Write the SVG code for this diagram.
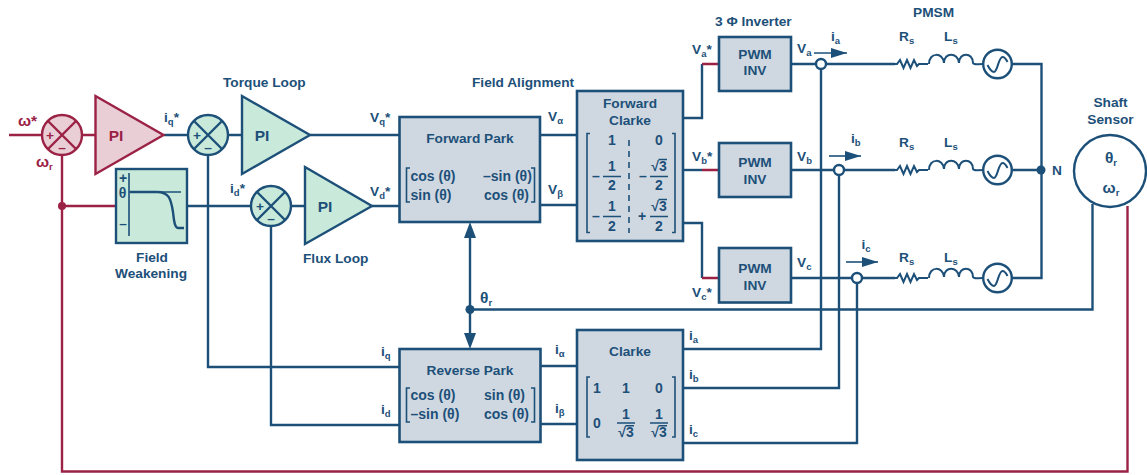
<svg xmlns="http://www.w3.org/2000/svg" width="1147" height="475" viewBox="0 0 1147 475">
<style>
text{font-family:"Liberation Sans",Arial,sans-serif;font-weight:bold;font-size:13.7px;fill:#1d5079}
.m{text-anchor:middle}
.r{fill:#9b2145}
.mx{font-size:14px}
.pi{font-size:15.5px}
.big{font-size:15.5px}
.s{font-size:9.5px}
.w{fill:none;stroke:#1d5079;stroke-width:2.4}
.wr{fill:none;stroke:#9b2145;stroke-width:2.4}
.t{fill:none;stroke:#1d5079;stroke-width:1.6}
.u{fill:none;stroke:#1d5079;stroke-width:2}
.b{fill:#cfd8e1;stroke:#1d5079;stroke-width:2.6}
.g{fill:#c9e9da;stroke:#1d5079;stroke-width:2.4}
.p{fill:#e9ced6;stroke:#9b2145;stroke-width:2.4}
.d{fill:#1d5079}
.o{fill:#fff;stroke:#1d5079;stroke-width:2.4}
</style>
<defs>
<marker id="ah" viewBox="0 0 16 10" refX="16" refY="5" markerWidth="16" markerHeight="10" markerUnits="userSpaceOnUse" orient="auto"><path d="M0 0L16 5L0 10Z" fill="#1d5079"/></marker>
<g id="rl"><path class="u" d="M0 0H2L5 -4L8.500 4L12 -4L15.500 4L19 -4L22 2L24 0H33"/></g>
<g id="ind"><path class="u" d="M0 0C0 -12 14 -12 15 -1C15 -12 29 -12 30 -1C30 -12 44 -12 44 -1C45 1 47 0 54 0"/></g>
<g id="src"><circle r="14.300" fill="#fff" stroke="#1d5079" stroke-width="2.400"/><path class="u" d="M-10 1C-8 5 -6 8 -3.500 8C0 8 1 -7 5 -7C7 -7 9 -4 10 -2"/></g>
</defs>

<g id="connectors">
<path class="wr" d="M9 135H42M82 135H95M62 155V471.500H1127.500V206M62 206H116"/>
<path class="w" d="M164 135H188M228 135H242M310 135H399M187 206H251M291 206H305M372 206H399"/>
<path class="w" d="M208 155V367H399M271 226V425H399"/>
<path class="w" d="M540 135H577M540 205H577M540 366H577M540 424H577"/>
<path class="w" d="M683 118H702V64"/>
<path class="w" d="M683 170H702"/>
<path class="w" d="M683 223H702V278"/>
<path class="wr" d="M702 64H719M702 170H719M702 278H719"/>
<path class="w" d="M791 64H895M791 170H895M791 278H895"/>
<path class="w" d="M821 64V349H683M839 170V388H683M857 278V443H683"/>
<path class="w" d="M1012 64H1041.500V278H1012M1012 170H1041"/>
<path class="w" d="M1092.500 204V309.500H470"/>
<path class="w" d="M470 234V337" stroke-width="2"/>
<path d="M470 222L476 238H464Z M470 349L476 333H464Z" class="d"/>
<path class="t" d="M814 53H847" marker-end="url(#ah)"/>
<path class="t" d="M829 156H861" marker-end="url(#ah)"/>
<path class="t" d="M846 262H878" marker-end="url(#ah)"/>
<circle cx="62" cy="206" r="4" fill="#9b2145"/>
<circle cx="470" cy="309.500" r="4.500" class="d"/>
<circle cx="1041" cy="170" r="4.500" class="d"/>
<circle cx="821" cy="64" r="5" class="o"/>
<circle cx="839" cy="170" r="5" class="o"/>
<circle cx="857" cy="278" r="5" class="o"/>
</g>

<g id="sum-speed">
<circle cx="62" cy="135" r="20" class="p"/>
<path class="wr" d="M48 121L76 149M76 121L48 149"/>
<text x="50" y="140" class="m r">+</text><text x="62" y="152" class="m r">–</text>
</g>
<g id="pi-speed">
<path class="p" d="M95.500 96L163.500 135L95.500 174Z"/>
<text x="116" y="141" class="m r pi">PI</text>
</g>
<g id="sum-q">
<circle cx="208" cy="135" r="20" class="g"/>
<path class="w" d="M194 121L222 149M222 121L194 149"/>
<text x="197" y="140" class="m">+</text><text x="208" y="152" class="m">–</text>
</g>
<g id="pi-q">
<path class="g" d="M242 96L310 135L242 174Z"/>
<text x="262" y="141" class="m pi">PI</text>
</g>
<g id="field-weakening">
<rect x="116" y="169" width="71" height="74" class="g"/>
<path class="t" d="M129 173V236M129 192H181"/>
<path class="w" d="M130 192H157C169 192 171 199 173 212C174 222 175 228 178 228H184"/>
<text x="123" y="183" class="m" style="font-size:14px">+</text>
<text x="122.500" y="198" class="m" style="font-size:14px">θ</text>
<text x="123" y="228" class="m">–</text>
</g>
<g id="sum-d">
<circle cx="271" cy="206" r="20" class="g"/>
<path class="w" d="M257 192L285 220M285 192L257 220"/>
<text x="260" y="211" class="m">+</text><text x="271" y="223" class="m">–</text>
</g>
<g id="pi-d">
<path class="g" d="M305 167L372 206L305 244Z"/>
<text x="325" y="212" class="m pi">PI</text>
</g>

<g id="forward-park">
<rect x="399.500" y="117" width="140.500" height="105" class="b"/>
<text x="470" y="143" class="m">Forward Park</text>
<path class="t" d="M410 168H406.500V202H410M531 168H534.500V202H531"/>
<text x="410.500" y="181" class="mx">cos (θ)</text><text x="483" y="181" class="mx">–sin (θ)</text>
<text x="410.500" y="200" class="mx">sin (θ)</text><text x="484" y="200" class="mx">cos (θ)</text>
</g>
<g id="forward-clarke">
<rect x="577" y="91" width="106" height="150" class="b"/>
<text x="630" y="108" class="m">Forward</text><text x="630" y="125" class="m">Clarke</text>
<path class="t" d="M590 133.500H587V232.500H590M672 133.500H675V232.500H672"/>
<path class="t" stroke-dasharray="6 5" d="M629 140V233"/>
<path class="t" d="M603 176.500H621M650 176.500H668M603 216.500H621M650 216.500H668"/>
<path class="t" stroke-width="1.200" d="M658.500 159.500H667M658.500 199.500H667"/>
<text x="612" y="145" class="m mx">1</text><text x="659" y="145" class="m mx">0</text>
<text x="596" y="181" class="m mx">–</text><text x="612" y="171" class="m mx">1</text><text x="612" y="190" class="m mx">2</text>
<text x="643" y="181" class="m mx">–</text><text x="659" y="171" class="m mx">√3</text><text x="659" y="190" class="m mx">2</text>
<text x="596" y="221" class="m mx">–</text><text x="612" y="211" class="m mx">1</text><text x="612" y="231" class="m mx">2</text>
<text x="642" y="221" class="m mx">+</text><text x="659" y="211" class="m mx">√3</text><text x="659" y="231" class="m mx">2</text>
</g>
<g id="pwm-a"><rect x="719" y="37" width="72" height="54" class="b"/><text x="755" y="59" class="m">PWM</text><text x="755" y="75" class="m">INV</text></g>
<g id="pwm-b"><rect x="719" y="143" width="72" height="54" class="b"/><text x="755" y="167" class="m">PWM</text><text x="755" y="184" class="m">INV</text></g>
<g id="pwm-c"><rect x="719" y="248" width="72" height="54.500" class="b"/><text x="755" y="273" class="m">PWM</text><text x="755" y="290" class="m">INV</text></g>
<g id="reverse-park">
<rect x="399.500" y="349" width="141" height="93" class="b"/>
<text x="470" y="375" class="m">Reverse Park</text>
<path class="t" d="M410 388H406.500V422H410M531 388H534.500V422H531"/>
<text x="410.500" y="400" class="mx">cos (θ)</text><text x="484" y="400" class="mx">sin (θ)</text>
<text x="410.500" y="419" class="mx">–sin (θ)</text><text x="484" y="419" class="mx">cos (θ)</text>
</g>
<g id="clarke">
<rect x="577" y="330" width="106" height="130" class="b"/>
<text x="630" y="356" class="m">Clarke</text>
<path class="t" d="M590 377H587V437H590M672 377H675V437H672"/>
<path class="t" d="M617 423H635M650 423H668"/>
<path class="t" stroke-width="1.200" d="M625.500 425.800H634M658.500 425.800H667"/>
<text x="597" y="393" class="m mx">1</text><text x="626" y="393" class="m mx">1</text><text x="659" y="393" class="m mx">0</text>
<text x="597" y="428" class="m mx">0</text><text x="626" y="419" class="m mx">1</text><text x="626" y="437" class="m mx">√3</text>
<text x="659" y="419" class="m mx">1</text><text x="659" y="437" class="m mx">√3</text>
</g>
<g id="pmsm">
<use href="#rl" x="895" y="64"/><use href="#ind" x="929" y="64"/><use href="#src" x="997.500" y="64"/>
<use href="#rl" x="895" y="170"/><use href="#ind" x="929" y="170"/><use href="#src" x="997.500" y="170"/>
<use href="#rl" x="895" y="278"/><use href="#ind" x="929" y="278"/><use href="#src" x="997.500" y="278"/>
</g>
<g id="shaft-sensor">
<circle cx="1110" cy="171" r="36" class="o"/>
<text x="1111" y="162.500" class="m big">θ<tspan class="s" dy="3">r</tspan></text>
<text x="1111" y="193" class="m big">ω<tspan class="s" dy="3">r</tspan></text>
</g>

<g id="labels">
<text x="18" y="126" class="r big">ω*</text>
<text x="36" y="167" class="r big">ω<tspan class="s" dy="3">r</tspan></text>
<text x="164" y="122">i<tspan class="s" dy="3">q</tspan><tspan dy="-3">*</tspan></text>
<text x="223" y="87">Torque Loop</text>
<text x="230" y="193">i<tspan class="s" dy="3">d</tspan><tspan dy="-3">*</tspan></text>
<text x="370" y="122">V<tspan class="s" dy="3">q</tspan><tspan dy="-3">*</tspan></text>
<text x="370" y="196">V<tspan class="s" dy="3">d</tspan><tspan dy="-3">*</tspan></text>
<text x="303" y="263">Flux Loop</text>
<text x="152" y="262" class="m">Field</text><text x="151" y="278" class="m">Weakening</text>
<text x="472" y="87">Field Alignment</text>
<text x="548" y="121">V<tspan class="s" dy="3">α</tspan></text>
<text x="548" y="194">V<tspan class="s" dy="3">β</tspan></text>
<text x="715" y="26">3 Φ Inverter</text>
<text x="913" y="17">PMSM</text>
<text x="692" y="54">V<tspan class="s" dy="3">a</tspan><tspan dy="-3">*</tspan></text>
<text x="692" y="161">V<tspan class="s" dy="3">b</tspan><tspan dy="-3">*</tspan></text>
<text x="692" y="297">V<tspan class="s" dy="3">c</tspan><tspan dy="-3">*</tspan></text>
<text x="797" y="53">V<tspan class="s" dy="3">a</tspan></text>
<text x="797" y="161">V<tspan class="s" dy="3">b</tspan></text>
<text x="797" y="267">V<tspan class="s" dy="3">c</tspan></text>
<text x="831" y="41">i<tspan class="s" dy="3">a</tspan></text>
<text x="851" y="143">i<tspan class="s" dy="3">b</tspan></text>
<text x="861.500" y="249">i<tspan class="s" dy="3">c</tspan></text>
<text x="899" y="41">R<tspan class="s" dy="3">s</tspan></text><text x="944" y="41">L<tspan class="s" dy="3">s</tspan></text>
<text x="899" y="147">R<tspan class="s" dy="3">s</tspan></text><text x="944" y="147">L<tspan class="s" dy="3">s</tspan></text>
<text x="899" y="262">R<tspan class="s" dy="3">s</tspan></text><text x="944" y="262">L<tspan class="s" dy="3">s</tspan></text>
<text x="1052" y="175">N</text>
<text x="1110.500" y="107" class="m">Shaft</text><text x="1110.500" y="124" class="m">Sensor</text>
<text x="480" y="303" class="big">θ<tspan class="s" dy="3">r</tspan></text>
<text x="381" y="356">i<tspan class="s" dy="3">q</tspan></text>
<text x="381" y="414">i<tspan class="s" dy="3">d</tspan></text>
<text x="555" y="354">i<tspan class="s" dy="3">α</tspan></text>
<text x="555" y="413">i<tspan class="s" dy="3">β</tspan></text>
<text x="689" y="340">i<tspan class="s" dy="3">a</tspan></text>
<text x="689" y="379">i<tspan class="s" dy="3">b</tspan></text>
<text x="689" y="434">i<tspan class="s" dy="3">c</tspan></text>
</g>
</svg>
